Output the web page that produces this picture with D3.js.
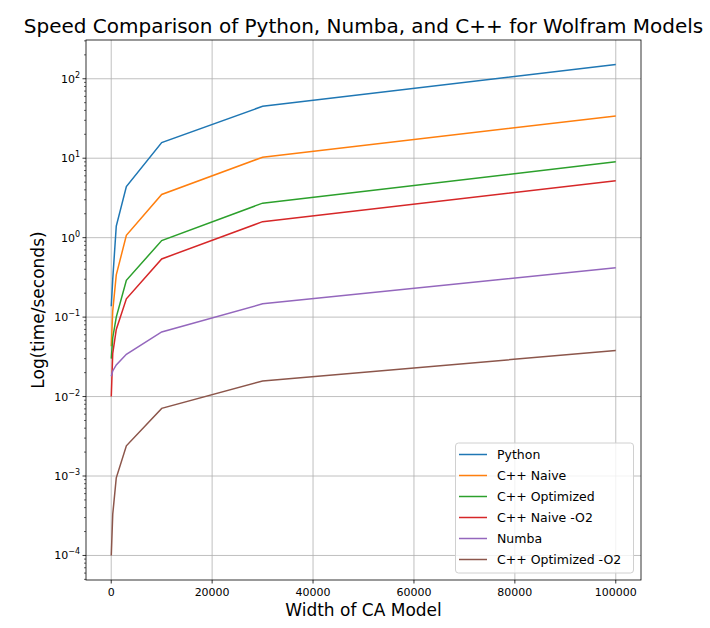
<!DOCTYPE html>
<html><head><meta charset="utf-8">
<script src="https://cdn.jsdelivr.net/npm/d3@7"></script>
<style>body{margin:0;background:#fff;} text{font-family:"DejaVu Sans",sans-serif;}</style>
</head><body>
<svg id="c" width="710" height="628"></svg>
<script>
const widths = [10, 300, 1000, 3000, 10000, 30000, 100000];
const python = [0.137, 0.3, 1.4, 4.4, 15.7, 45, 151];
const cppNaive = [0.043, 0.12, 0.34, 1.07, 3.5, 10.3, 34];
const cppOptimized = [0.03, 0.055, 0.10, 0.29, 0.92, 2.72, 9.0];
const cppNaiveO2 = [0.01, 0.035, 0.07, 0.17, 0.54, 1.59, 5.2];
const numba = [0.018, 0.021, 0.025, 0.034, 0.065, 0.147, 0.417];
const cppOptimizedO2 = [0.0001, 0.00033, 0.00095, 0.0024, 0.0071, 0.0157, 0.038];
const seriesNames = ["Python", "C++ Naive", "C++ Optimized", "C++ Naive -O2", "Numba", "C++ Optimized -O2"];
const seriesColors = ["#1f77b4", "#ff7f0e", "#2ca02c", "#d62728", "#9467bd", "#8c564b"];
const xTicks = [0, 20000, 40000, 60000, 80000, 100000];
const yExponents = [-4, -3, -2, -1, 0, 1, 2];
const allSeries = [python, cppNaive, cppOptimized, cppNaiveO2, numba, cppOptimizedO2];

const L = 86, R = 641, T = 40, B = 580;
const svg = d3.select("#c");
svg.append("rect").attr("width",710).attr("height",628).attr("fill","#fff");

const x = d3.scaleLinear().domain([-5000, 105000]).range([L, R]);
const yMin = Math.log10(0.0001), yMax = Math.log10(151);
const pad = (yMax - yMin) * 0.05;
const y = d3.scaleLog().domain([Math.pow(10, yMin - pad), Math.pow(10, yMax + pad)]).range([B, T]);

// grid
const g = svg.append("g");
g.selectAll(".gx").data(xTicks).enter().append("line")
  .attr("x1", d => x(d)).attr("x2", d => x(d)).attr("y1", T).attr("y2", B)
  .attr("stroke", "#b0b0b0").attr("stroke-width", 0.8);
g.selectAll(".gy").data(yExponents).enter().append("line")
  .attr("x1", L).attr("x2", R).attr("y1", d => y(Math.pow(10, d))).attr("y2", d => y(Math.pow(10, d)))
  .attr("stroke", "#b0b0b0").attr("stroke-width", 0.8);

// lines
const line = d3.line().x((d, i) => x(widths[i])).y(d => y(d));
allSeries.forEach((s, k) => {
  svg.append("path").attr("d", line(s)).attr("fill", "none")
    .attr("stroke", seriesColors[k]).attr("stroke-width", 1.5);
});

// spines
svg.append("rect").attr("x", L).attr("y", T).attr("width", R - L).attr("height", B - T)
  .attr("fill", "none").attr("stroke", "#000").attr("stroke-width", 0.8);

// x ticks
const xa = svg.append("g");
xTicks.forEach(t => {
  xa.append("line").attr("x1", x(t)).attr("x2", x(t)).attr("y1", B).attr("y2", B + 3.5).attr("stroke", "#000").attr("stroke-width", 0.8);
  xa.append("text").attr("x", x(t)).attr("y", B + 16).attr("text-anchor", "middle").attr("font-size", 11).attr("fill", "#000").text(t);
});

// y ticks major
const ya = svg.append("g");
yExponents.forEach(e => {
  const yy = y(Math.pow(10, e));
  ya.append("line").attr("x1", L - 3.5).attr("x2", L).attr("y1", yy).attr("y2", yy).attr("stroke", "#000").attr("stroke-width", 0.8);
  const t = ya.append("text").attr("x", L - 6).attr("y", yy + 4).attr("text-anchor", "end").attr("font-size", 11).attr("fill", "#000");
  t.append("tspan").text("10");
  t.append("tspan").attr("dy", -5).attr("font-size", 8).text(e < 0 ? "\u2212" + (-e) : String(e));
});
// minor ticks
const [dLo, dHi] = y.domain();
for (let e = -5; e <= 2; e++) {
  for (let m = 2; m <= 9; m++) {
    const v = m * Math.pow(10, e);
    if (v < dLo || v > dHi) continue;
    const yy = y(v);
    ya.append("line").attr("x1", L - 2).attr("x2", L).attr("y1", yy).attr("y2", yy).attr("stroke", "#000").attr("stroke-width", 0.6);
  }
}

// title & labels
svg.append("text").attr("x", (L + R) / 2).attr("y", 33).attr("text-anchor", "middle").attr("font-size", 20).attr("fill", "#000")
  .text("Speed Comparison of Python, Numba, and C++ for Wolfram Models");
svg.append("text").attr("x", (L + R) / 2).attr("y", 616).attr("text-anchor", "middle").attr("font-size", 17).attr("fill", "#000")
  .text("Width of CA Model");
svg.append("text").attr("transform", `translate(44,${(T + B) / 2}) rotate(-90)`).attr("text-anchor", "middle").attr("font-size", 17).attr("fill", "#000")
  .text("Log(time/seconds)");

// legend
const lg = svg.append("g");
const lx = 455.5, ly = 443, lw = 178, lh = 130;
lg.append("rect").attr("x", lx).attr("y", ly).attr("width", lw).attr("height", lh).attr("rx", 3)
  .attr("fill", "#fff").attr("fill-opacity", 0.8).attr("stroke", "#d0d0d0").attr("stroke-width", 1);
seriesNames.forEach((n, k) => {
  const yy = 454.5 + k * 21;
  lg.append("line").attr("x1", 459).attr("x2", 487).attr("y1", yy).attr("y2", yy).attr("stroke", seriesColors[k]).attr("stroke-width", 1.5);
  lg.append("text").attr("x", 497).attr("y", yy + 4.5).attr("font-size", 12.5).attr("fill", "#000").text(n);
});
</script>
</body></html>
